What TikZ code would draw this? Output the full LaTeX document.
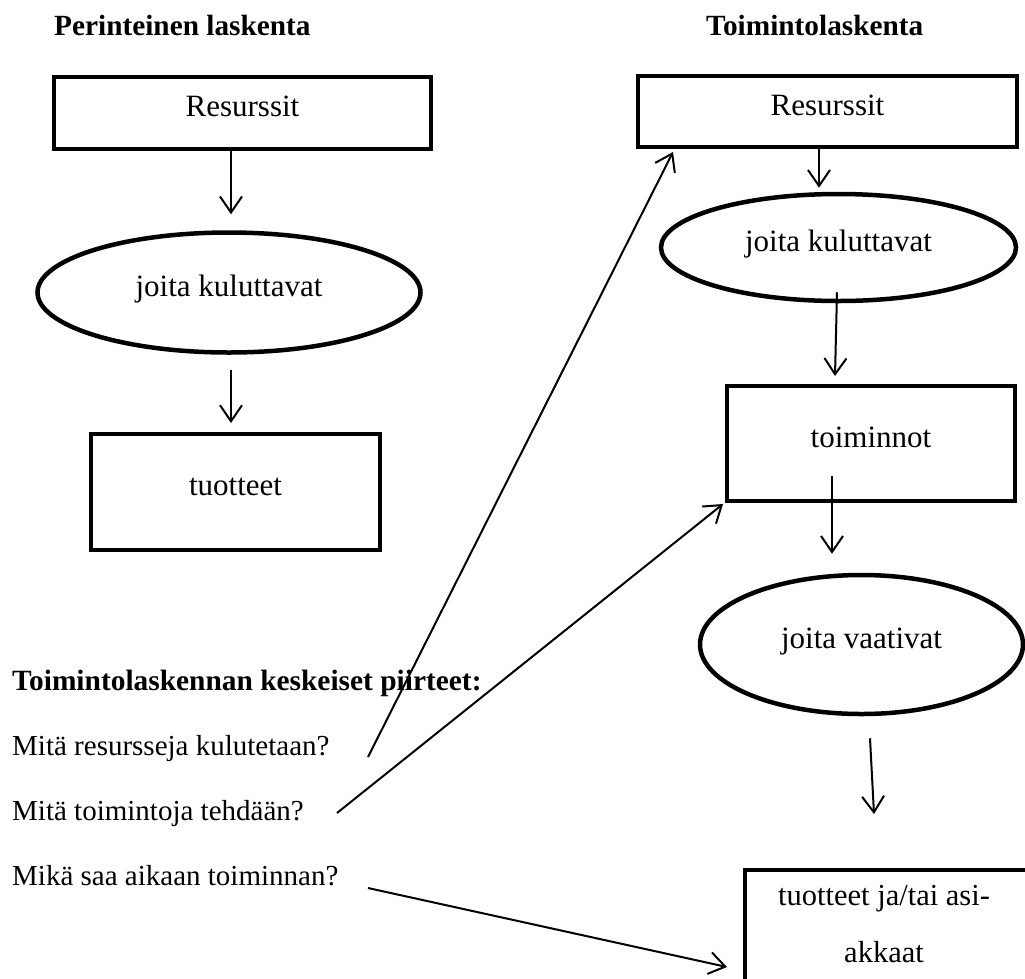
\documentclass[tikz,border=0pt]{standalone}
\usepackage{fontspec}
\setmainfont{Liberation Serif}
\usetikzlibrary{arrows.meta,shapes.geometric}
\tikzset{
  boxnode/.style={draw, line width=4pt, rectangle, inner sep=0pt,
    font=\fontsize{31}{37}\selectfont, text height=21pt, text depth=14pt},
  ovalnode/.style={draw, line width=4.5pt, ellipse, inner sep=0pt,
    font=\fontsize{31}{37}\selectfont, text height=21pt, text depth=14pt},
  titlenode/.style={inner sep=0pt, anchor=base west, font=\bfseries\fontsize{29.3}{35}\selectfont},
  qnode/.style={inner sep=0pt, anchor=base west, font=\fontsize{29}{35}\selectfont},
  arr/.style={line width=2pt, -{Straight Barb[length=16pt,width=22pt,line width=2pt]}},
}
\begin{document}
\begin{tikzpicture}[x=1pt,y=-1pt]
\useasboundingbox (0,0) rectangle (1025,978);
\clip (0,0) rectangle (1025,978);
\fill[white] (0,0) rectangle (1025,978);

% titles
\node[titlenode] (t1) at (54,35) {Perinteinen laskenta};
\node[titlenode] (t2) at (706,35) {Toimintolaskenta};

% left column
\node[boxnode, minimum width=377pt, minimum height=72pt] (lres) at (242.5,112.5) {Resurssit};
\node[ovalnode, minimum width=383pt, minimum height=120pt] (lell) at (229,292.5) {joita kuluttavat};
\node[boxnode, minimum width=289pt, minimum height=116pt] (ltuot) at (235.5,492) {tuotteet};

% right column
\node[boxnode, minimum width=379pt, minimum height=71pt] (rres) at (827.5,111.5) {Resurssit};
\node[ovalnode, minimum width=355pt, minimum height=107pt] (rell1) at (838.5,247.5) {joita kuluttavat};
\node[boxnode, minimum width=288pt, minimum height=115pt] (rtoim) at (871,443.5) {toiminnot};
\node[ovalnode, minimum width=323pt, minimum height=139pt] (rell2) at (861.5,644.5) {joita vaativat};
\node[boxnode, minimum width=357pt, minimum height=182pt, anchor=north west] (rtuot) at (743,868) {};
\node[inner sep=0pt, align=center, anchor=base, font=\fontsize{30.5}{57}\selectfont] (rtuottxt) at (884,962) {tuotteet ja/tai asi-\\akkaat};

% bottom-left text
\node[inner sep=0pt, anchor=base west, font=\bfseries\fontsize{29.4}{35}\selectfont] (kes) at (12,690) {Toimintolaskennan keskeiset piirteet:};
\node[qnode] (q1) at (12,755) {Mitä resursseja kulutetaan?};
\node[qnode] (q2) at (12,820) {Mitä toimintoja tehdään?};
\node[qnode] (q3) at (12,885) {Mikä saa aikaan toiminnan?};

% vertical arrows
\draw[arr] ([xshift=-11.5pt]lres.south) -- ([xshift=2pt,yshift=16pt]lell.north);
\draw[arr] ([xshift=2pt,yshift=-15pt]lell.south) -- ([xshift=-4.5pt,yshift=9pt]ltuot.north);
\draw[arr] ([xshift=-8.5pt]rres.south) -- ([xshift=-19.5pt,yshift=4pt]rell1.north);
\draw[arr] ([xshift=-1.5pt,yshift=11pt]rell1.south) -- ([xshift=-36pt,yshift=8pt]rtoim.north);
\draw[arr] ([xshift=-39pt,yshift=27pt]rtoim.south) -- ([xshift=-29.5pt,yshift=19pt]rell2.north);
\draw[arr] ([xshift=8.5pt,yshift=-22pt]rell2.south) -- ([xshift=131pt,yshift=54pt]rtuot.north west);

% question connectors
\draw[arr] ([xshift=356pt,yshift=-2pt]q1.base west) -- ([xshift=37pt,yshift=-3pt]rres.south west);
\draw[arr] ([xshift=325pt,yshift=7pt]q2.base west) -- ([xshift=-2pt,yshift=-1pt]rtoim.south west);
\draw[arr] ([xshift=356pt,yshift=-3pt]q3.base west) -- ([xshift=-16pt,yshift=-6pt]rtuot.west);
\end{tikzpicture}
\end{document}
